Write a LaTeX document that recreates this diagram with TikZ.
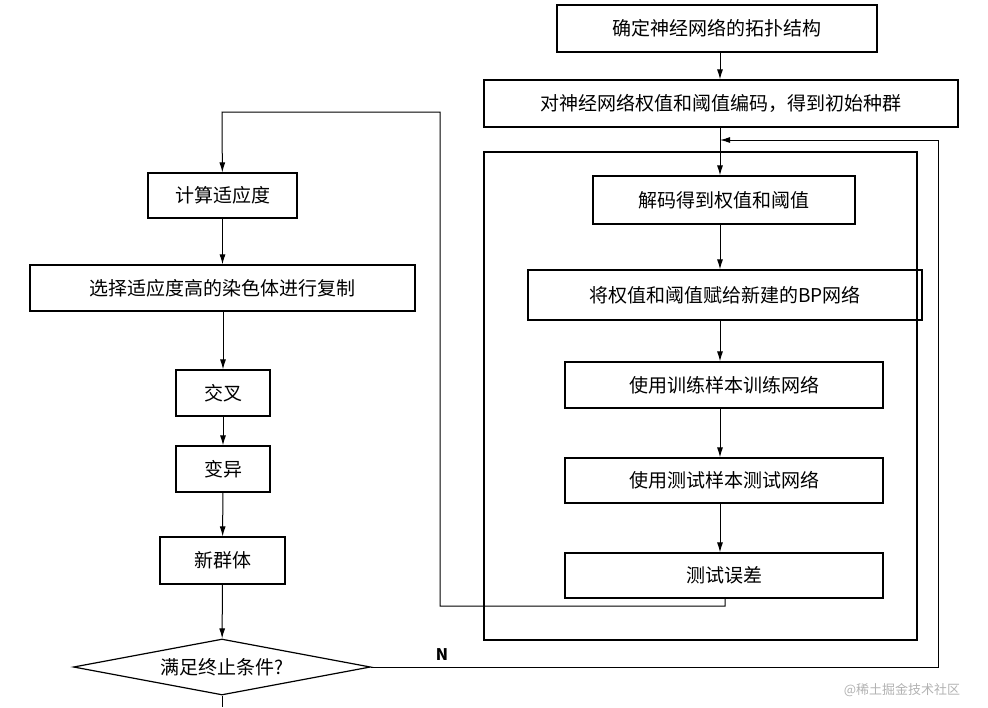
\documentclass[tikz,border=0pt]{standalone}
\usepackage{fontspec}
\setmainfont{Noto Sans CJK SC}
\usetikzlibrary{shapes.geometric,arrows.meta}
\begin{document}
\begin{tikzpicture}[x=1pt,y=-1pt,
  bx/.style={draw,line width=1.2pt,inner sep=0pt,font=\fontsize{19}{19}\selectfont},
  ar/.style={draw,line width=1pt,-{Latex[length=10pt,width=6pt]}},
  ln/.style={draw,line width=1pt}]
\useasboundingbox (0,0) rectangle (988,707);
\newcommand{\bxat}[6]{\node[bx,minimum width=#3-#2,minimum height=#5-#4] (#1) at ({(#2+#3)/2},{(#4+#5)/2}) {#6};}
\bxat{t1}{557}{877}{5}{52}{确定神经网络的拓扑结构}
\bxat{t2}{484}{958}{80}{127}{对神经网络权值和阈值编码，得到初始种群}
\bxat{r1}{593}{855}{176}{224}{解码得到权值和阈值}
\bxat{r2}{528}{922}{270}{320}{将权值和阈值赋给新建的BP网络}
\bxat{r3}{565}{883}{362}{408}{使用训练样本训练网络}
\bxat{r4}{565}{883}{458}{503}{使用测试样本测试网络}
\bxat{r5}{565}{883}{553}{598}{测试误差}
\bxat{l1}{148}{297}{173}{218}{计算适应度}
\bxat{l2}{30}{415}{265}{311}{选择适应度高的染色体进行复制}
\bxat{l3}{176}{270}{370}{416}{交叉}
\bxat{l4}{176}{270}{446}{492}{变异}
\bxat{l5}{160}{285}{537}{584}{新群体}
\draw[line width=2.2pt] (484,152) rectangle (917,640);
\node[draw,line width=1.2pt,diamond,aspect=5.4,minimum width=297pt,minimum height=56pt,inner sep=0pt,font=\fontsize{19}{19}\selectfont] (d) at (222,667) {满足终止条件?};
\coordinate (cx) at (720,0);
\draw[ar] (t1.south -| cx) -- (t2.north -| cx);
\draw[ar] (t2.south -| cx) -- (r1.north -| cx);
\draw[ar] (r1.south -| cx) -- (r2.north -| cx);
\draw[ar] (r2.south -| cx) -- (r3.north -| cx);
\draw[ar] (r3.south -| cx) -- (r4.north -| cx);
\draw[ar] (r4.south -| cx) -- (r5.north -| cx);
\draw[ar] (l1) -- (l2);
\draw[ar] (l2.south -| l3) -- (l3);
\draw[ar] (l3) -- (l4);
\draw[ar] (l4) -- (l5);
\draw[ar] (l5) -- (d);
\coordinate (e1) at (222,707);
\draw[ln] (d) -- (e1);
\coordinate (a1) at (725,606);
\coordinate (a2) at (440,606);
\coordinate (a3) at (440,112);
\coordinate (a4) at (222,112);
\draw[ar] (a1 |- r5.south) -- (a1) -- (a2) -- (a3) -- (a4) -- (l1);
\coordinate (n1) at (938,667);
\coordinate (n2) at (938,140);
\coordinate (n3) at (720,140);
\draw[ar] (d.east) -- (n1) -- (n2) -- (n3);
\node[font=\fontsize{16}{16}\selectfont\bfseries] at (442,655) {N};
\node[text=gray!60,font=\fontsize{13}{13}\selectfont] at (902,690) {@稀土掘金技术社区};
\end{tikzpicture}
\end{document}
